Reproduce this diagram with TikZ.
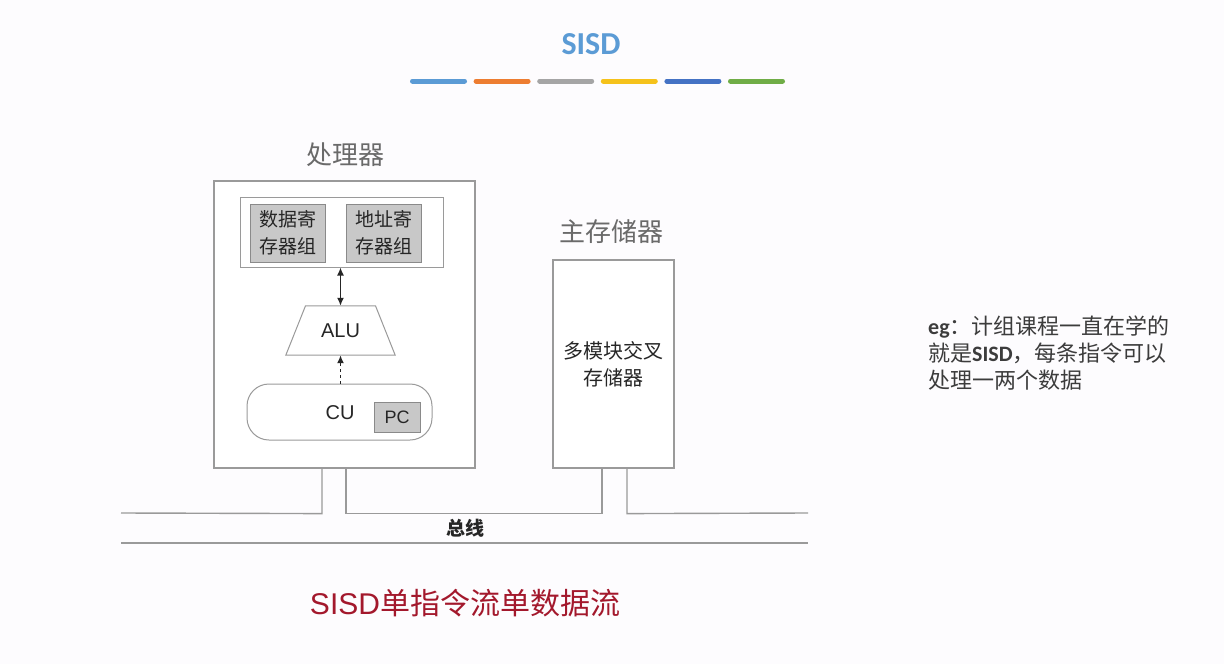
\documentclass[tikz,border=0pt]{standalone}
\usepackage{fontspec}
\setmainfont{Noto Sans CJK SC}
\newfontfamily\latfont{Liberation Sans}
\newfontfamily\calfont{Carlito}
\usetikzlibrary{arrows.meta,calc}

\definecolor{bg}{HTML}{FDFCFE}
\definecolor{linegray}{HTML}{9A9A9A}
\definecolor{txtdark}{HTML}{262626}
\definecolor{lblgray}{HTML}{6A6A6A}
\definecolor{regfill}{HTML}{C8C8C8}
\definecolor{regline}{HTML}{8A8A8A}
\definecolor{titleblue}{HTML}{5B9BD5}
\definecolor{capred}{HTML}{A3182C}
\definecolor{barA}{HTML}{5B9BD5}
\definecolor{barB}{HTML}{ED7D31}
\definecolor{barC}{HTML}{A5A5A5}
\definecolor{barD}{HTML}{F5C21B}
\definecolor{barE}{HTML}{4472C4}
\definecolor{barF}{HTML}{70AD47}

\tikzset{
  box/.style={draw=linegray, line width=1.2pt, fill=white, inner sep=0pt},
  regbox/.style={draw=regline, line width=1pt, fill=regfill, inner sep=0pt, align=center,
    text=txtdark, font=\fontsize{19}{27}\selectfont},
  lbl/.style={text=lblgray, inner sep=0pt, font=\fontsize{26}{26}\selectfont},
  busline/.style={draw=linegray, line width=1.4pt},
  flow/.style={draw=black!85, line width=1.5pt, arrows={-Latex[length=8pt,width=7pt]}},
}

\begin{document}
\begin{tikzpicture}[x=1pt,y=-1pt]
  % page
  \path[use as bounding box, fill=bg] (0,0) rectangle (1224,664);

  % heading and colour strip
  \node[inner sep=0pt, text=titleblue, font=\calfont\bfseries\fontsize{32}{32}\selectfont] (title) at (591,44) {SISD};
  \foreach \c [count=\i from 0] in {barA,barB,barC,barD,barE,barF}
    \draw[\c, line width=5pt, line cap=round] (412.5+63.6*\i,81) -- ++(52,0);

  % processor
  \node[lbl] (proclbl) at (345,155) {处理器};
  \node[box, minimum width=261pt, minimum height=287pt] (proc) at (344.5,324.5) {};
  \node[box, line width=1pt, minimum width=203pt, minimum height=70pt] (regs) at (341.5,232) {};
  \node[regbox, minimum width=75pt, minimum height=58pt] (dreg) at (287.5,233) {数据寄\\存器组};
  \node[regbox, minimum width=75pt, minimum height=58pt] (areg) at (383.5,233) {地址寄\\存器组};

  \node[inner sep=0pt, minimum width=109pt, minimum height=49pt, text=txtdark,
        font=\latfont\fontsize{20}{20}\selectfont] (alu) at (340.5,330.5) {ALU};
  \draw[draw=linegray, line width=1pt] ($(alu.north)+(-35,0)$) -- ($(alu.north)+(35,0)$)
    -- (alu.south east) -- (alu.south west) -- cycle;

  \node[draw=linegray, line width=1pt, fill=white, rounded corners=22pt,
        minimum width=185pt, minimum height=56pt, inner sep=0pt] (cu) at (339.5,412) {};
  \node[inner sep=0pt, text=txtdark, font=\latfont\fontsize{20}{20}\selectfont] (cutext) at (340,413) {CU};
  \node[regbox, minimum width=46pt, minimum height=30pt, font=\latfont\fontsize{18}{18}\selectfont] (pc) at (397,417) {PC};

  \draw[flow, arrows={Latex[length=8pt,width=7pt]-Latex[length=8pt,width=7pt]}]
    (alu.north |- regs.south) -- (alu.north);
  \draw[flow, dashed] (alu.south |- cu.north) -- (alu.south);

  % main memory
  \node[lbl] (memlbl) at (611,232) {主存储器};
  \node[box, minimum width=121pt, minimum height=208pt, align=center, text=txtdark,
        font=\fontsize{20}{27}\selectfont] (mem) at (613.5,364) {多模块交叉\\存储器};

  % bus
  \coordinate (busL) at (121,513);
  \coordinate (busR) at (808,513);
  \coordinate (busLL) at (121,543);
  \coordinate (busRR) at (808,543);
  \draw[busline] (busL) -- ($(proc.south)+(-22.5,45)$) -- ($(proc.south)+(-22.5,0)$);
  \draw[busline] ($(proc.south)+(1.5,0)$) -- ($(proc.south)+(1.5,45)$)
    -- ($(mem.south)+(-11.5,45)$) -- ($(mem.south)+(-11.5,0)$);
  \draw[busline] ($(mem.south)+(13.5,0)$) -- ($(mem.south)+(13.5,45)$) -- (busR);
  \draw[busline] (busLL) -- (busRR);
  \node[inner sep=0pt, text=black!85, font=\bfseries\fontsize{19}{19}\selectfont] (buslbl) at (465,528) {总线};

  % caption
  \node[inner sep=0pt, text=capred, font=\fontsize{30}{30}\selectfont] (caption) at (465,603)
    {{\latfont SISD}单指令流单数据流};

  % side note
  \node[anchor=north west, inner sep=0pt, align=left, text=txtdark!90,
        font=\fontsize{22}{27}\selectfont] (note) at (928,316)
    {{\calfont\bfseries eg}：计组课程一直在学的\\就是{\calfont\bfseries SISD}，每条指令可以\\处理一两个数据};
\end{tikzpicture}
\end{document}
